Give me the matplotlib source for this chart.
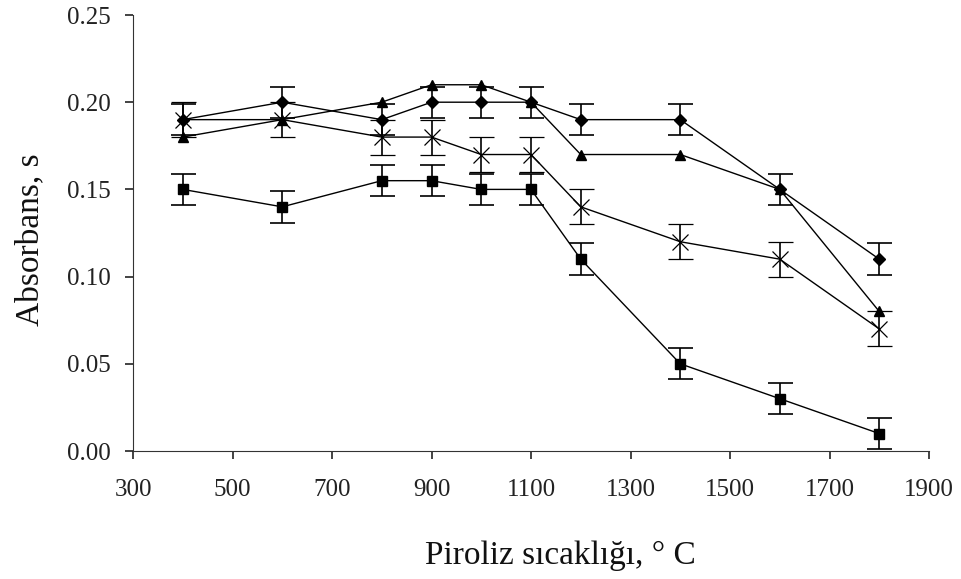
import numpy as np
import matplotlib.pyplot as plt

plt.rcParams['font.family'] = ['Liberation Serif', 'DejaVu Serif']

# Piroliz sıcaklığı (°C)
sicaklik = [400, 600, 800, 900, 1000, 1100, 1200, 1400, 1600, 1800]

# absorbans değerleri (okunan)
elmas = [0.19, 0.20, 0.19, 0.20, 0.20, 0.20, 0.19, 0.19, 0.15, 0.11]
ucgen = [0.18, 0.19, 0.20, 0.21, 0.21, 0.20, 0.17, 0.17, 0.15, 0.08]
yildiz = [0.19, 0.19, 0.18, 0.18, 0.17, 0.17, 0.14, 0.12, 0.11, 0.07]
kare = [0.15, 0.14, 0.155, 0.155, 0.15, 0.15, 0.11, 0.05, 0.03, 0.01]

# hata çubukları
hata_elmas = [0.009] * 10
hata_yildiz = [0.01] * 10
hata_kare = [0.009] * 10

x_ticks = [300, 500, 700, 900, 1100, 1300, 1500, 1700, 1900]
y_ticks = [0.00, 0.05, 0.10, 0.15, 0.20, 0.25]

fig = plt.figure(figsize=(9.61, 5.79), dpi=100)
ax = fig.add_axes([133 / 961, 1 - 451 / 579, (929 - 133) / 961, (451 - 15) / 579])

eb = dict(color='black', lw=1.0, capsize=9, capthick=1.2, elinewidth=1.2)
ax.errorbar(sicaklik, kare, yerr=hata_kare, marker='s', ms=7, **eb)
ax.errorbar(sicaklik, yildiz, yerr=hata_yildiz, marker='x', ms=12, mew=0.9, **eb)
ax.plot(sicaklik, ucgen, color='black', lw=1.0, marker='^', ms=7)
ax.errorbar(sicaklik, elmas, yerr=hata_elmas, marker='D', ms=6, **eb)

ax.set_xlim(300, 1900)
ax.set_ylim(0, 0.25)
ax.set_xticks(x_ticks)
ax.set_yticks(y_ticks)
ax.set_yticklabels(['%.2f' % v for v in y_ticks])
ax.spines['top'].set_visible(False)
ax.spines['right'].set_visible(False)
ax.spines['left'].set_color('#333333')
ax.spines['bottom'].set_color('#333333')
ax.tick_params(direction='out', length=6, width=1.2, labelsize=18, colors='#222222', pad=10)
ax.tick_params(axis='x', pad=14)

fig.text(560 / 961, 1 - 556 / 579, 'Piroliz sıcaklığı, ° C', fontsize=24,
         ha='center', va='center', color='#111111')
fig.text(30 / 961, 1 - 240 / 579, 'Absorbans, s', fontsize=24, rotation=90,
         ha='center', va='center', color='#111111')

fig.savefig('out.png', dpi=100, facecolor='white')
